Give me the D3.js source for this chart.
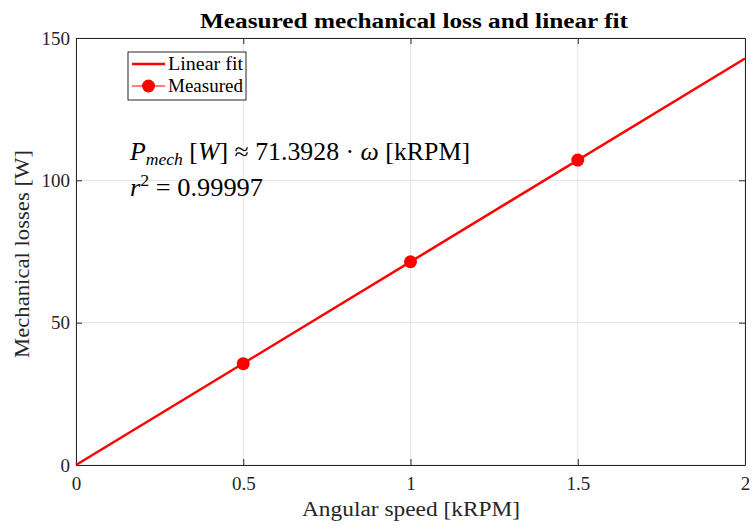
<!DOCTYPE html>
<html>
<head>
<meta charset="utf-8">
<script src="https://cdn.jsdelivr.net/npm/d3@7"></script>
<style>
  html, body { margin: 0; padding: 0; background: #fff; }
  svg { display: block; font-family: "Liberation Serif", "DejaVu Serif", serif; }
</style>
</head>
<body>
<svg id="chart" width="752" height="527"></svg>
<script>
// Measured mechanical losses at three speeds, with a zero-intercept linear fit
const speedsKRPM = [0.5, 1.0, 1.5];
const lossesW = [35.6, 71.4, 107.1];
const fitSlope = 71.3928;
const fitRange = [0, 2];
const xTicks = [0, 0.5, 1, 1.5, 2];
const yTicks = [0, 50, 100, 150];

const svg = d3.select("#chart");
const m = { left: 76, right: 7, top: 38, bottom: 62 };
const W = 752, H = 527;

const x = d3.scaleLinear().domain([0, 2]).range([m.left, W - m.right]);
const y = d3.scaleLinear().domain([0, 150]).range([H - m.bottom, m.top]);

// grid
const grid = svg.append("g").attr("stroke", "#e3e3e3").attr("stroke-width", 1);
xTicks.forEach(t => grid.append("line")
  .attr("x1", x(t)).attr("x2", x(t)).attr("y1", y(0)).attr("y2", y(150)));
yTicks.forEach(t => grid.append("line")
  .attr("x1", x(0)).attr("x2", x(2)).attr("y1", y(t)).attr("y2", y(t)));

// axes with inward ticks, box on all four sides
const fmt = d => d3.format("~g")(d);
svg.append("g").attr("transform", `translate(0,${y(0)})`)
  .call(d3.axisBottom(x).tickValues(xTicks).tickFormat(fmt).tickSizeInner(-6).tickSizeOuter(0).tickPadding(12))
  .call(g => g.selectAll("text").attr("font-size", 19).attr("font-family", "Liberation Serif").attr("fill", "#262626"));
svg.append("g").attr("transform", `translate(${x(0)},0)`)
  .call(d3.axisLeft(y).tickValues(yTicks).tickFormat(fmt).tickSizeInner(-6).tickSizeOuter(0).tickPadding(6))
  .call(g => g.selectAll("text").attr("font-size", 19).attr("font-family", "Liberation Serif").attr("fill", "#262626"));
svg.append("g").attr("transform", `translate(0,${y(150)})`)
  .call(d3.axisTop(x).tickValues(xTicks).tickFormat("").tickSizeInner(-6).tickSizeOuter(0));
svg.append("g").attr("transform", `translate(${x(2)},0)`)
  .call(d3.axisRight(y).tickValues(yTicks).tickFormat("").tickSizeInner(-6).tickSizeOuter(0));
svg.selectAll(".domain, .tick line").attr("stroke", "#262626");

// fit line
const fitLine = d3.line().x(d => x(d)).y(d => y(fitSlope * d));
svg.append("path").datum(fitRange).attr("d", fitLine)
  .attr("fill", "none").attr("stroke", "#ff0000").attr("stroke-width", 2.5);

// measured points
svg.append("g").selectAll("circle").data(speedsKRPM).join("circle")
  .attr("cx", d => x(d)).attr("cy", (d, i) => y(lossesW[i])).attr("r", 6.5)
  .attr("fill", "#ff0000");

// title and axis labels
svg.append("text").attr("x", 200).attr("y", 28)
  .attr("font-weight", "bold").attr("font-size", 20)
  .attr("textLength", 428).attr("lengthAdjust", "spacingAndGlyphs")
  .text("Measured mechanical loss and linear fit");
svg.append("text").attr("x", 302).attr("y", 516)
  .attr("font-size", 20).attr("fill", "#262626")
  .attr("textLength", 218).attr("lengthAdjust", "spacingAndGlyphs")
  .text("Angular speed [kRPM]");
svg.append("text").attr("transform", "translate(29,358) rotate(-90)")
  .attr("font-size", 20).attr("fill", "#262626")
  .attr("textLength", 208).attr("lengthAdjust", "spacingAndGlyphs")
  .text("Mechanical losses [W]");

// legend
const lg = svg.append("g").attr("transform", "translate(128,52)");
lg.append("rect").attr("width", 118).attr("height", 48)
  .attr("fill", "#fff").attr("stroke", "#262626").attr("stroke-width", 1);
lg.append("line").attr("x1", 4).attr("x2", 37).attr("y1", 12).attr("y2", 12)
  .attr("stroke", "#ff0000").attr("stroke-width", 2.5);
lg.append("line").attr("x1", 4).attr("x2", 37).attr("y1", 34).attr("y2", 34)
  .attr("stroke", "#ff0000").attr("stroke-width", 1);
lg.append("circle").attr("cx", 20.5).attr("cy", 34).attr("r", 6.5).attr("fill", "#ff0000");
lg.append("text").attr("x", 40).attr("y", 18).attr("font-size", 18)
  .attr("textLength", 75).attr("lengthAdjust", "spacingAndGlyphs").text("Linear fit");
lg.append("text").attr("x", 40).attr("y", 40).attr("font-size", 18)
  .attr("textLength", 75).attr("lengthAdjust", "spacingAndGlyphs").text("Measured");

// fit annotation
const ann = svg.append("text").attr("x", 130).attr("y", 160).attr("font-size", 25)
  .attr("textLength", 340).attr("lengthAdjust", "spacingAndGlyphs");
ann.append("tspan").attr("font-style", "italic").text("P");
ann.append("tspan").attr("font-style", "italic").attr("font-size", 17).attr("dy", 5).text("mech");
ann.append("tspan").attr("dy", -5).text(" [");
ann.append("tspan").attr("font-style", "italic").text("W");
ann.append("tspan").text("] ≈ 71.3928 · ");
ann.append("tspan").attr("font-style", "italic").text("ω");
ann.append("tspan").text(" [kRPM]");

const r2 = svg.append("text").attr("x", 130).attr("y", 196).attr("font-size", 25)
  .attr("textLength", 133).attr("lengthAdjust", "spacingAndGlyphs");
r2.append("tspan").attr("font-style", "italic").text("r");
r2.append("tspan").attr("font-size", 17).attr("dy", -10).text("2");
r2.append("tspan").attr("dy", 10).text(" = 0.99997");
</script>
</body>
</html>
